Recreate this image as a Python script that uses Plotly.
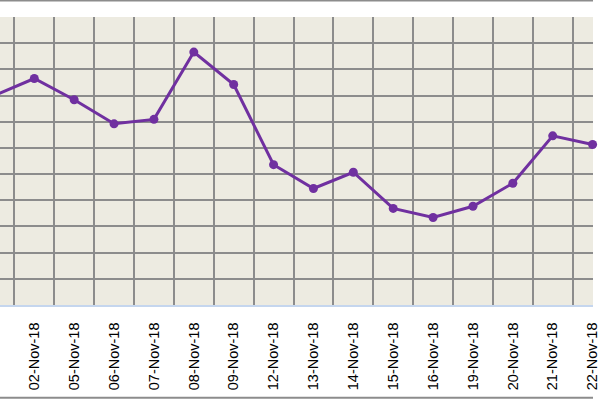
import plotly.graph_objects as go

dates = ['01-Nov-18', '02-Nov-18', '05-Nov-18', '06-Nov-18', '07-Nov-18',
         '08-Nov-18', '09-Nov-18', '12-Nov-18', '13-Nov-18', '14-Nov-18',
         '15-Nov-18', '16-Nov-18', '19-Nov-18', '20-Nov-18', '21-Nov-18',
         '22-Nov-18']
values = [74.00, 74.65, 73.84, 72.92, 73.09, 75.66, 74.42, 71.36,
          70.45, 71.07, 69.69, 69.34, 69.77, 70.65, 72.46, 72.13]

purple = '#7030A0'

fig = go.Figure()

fig.add_trace(go.Scatter(x=dates, y=values,
                         mode='lines+markers',
                         line=dict(color=purple, width=3),
                         marker=dict(color=purple, size=9),
                         cliponaxis=False,
                         showlegend=False))

fig.update_layout(
    width=600,
    height=400,
    margin=dict(l=0, r=0, t=17, b=95),
    paper_bgcolor='white',
    plot_bgcolor='#EDEBE1',
    font=dict(family='Liberation Sans, Arial', size=14.5, color='black'),
    xaxis=dict(
        type='category',
        range=[0.14, 15.01],
        tickson='boundaries',
        showgrid=True,
        gridcolor='#8C8C8C',
        gridwidth=1.5,
        tickangle=-90,
        ticks='',
        ticklabelstandoff=10,
        showline=True,
        linecolor='#C5D6EE',
        linewidth=1.5,
        zeroline=False,
    ),
    yaxis=dict(
        range=[66, 77],
        dtick=1,
        showgrid=True,
        gridcolor='#8C8C8C',
        gridwidth=1.5,
        showticklabels=False,
        zeroline=False,
    ),
    shapes=[
        dict(type='line', xref='paper', yref='paper', x0=0, x1=1,
             y0=1.057, y1=1.057, line=dict(color='#8C8C8C', width=2)),
        dict(type='line', xref='paper', yref='paper', x0=0, x1=1,
             y0=-0.322, y1=-0.322, line=dict(color='#8C8C8C', width=2)),
    ],
)

# page body has a default 8px margin, drop it so the chart sits at 0,0
fig.write_html('out.html', config={'displayModeBar': False},
               post_script="document.body.style.margin='0';")
